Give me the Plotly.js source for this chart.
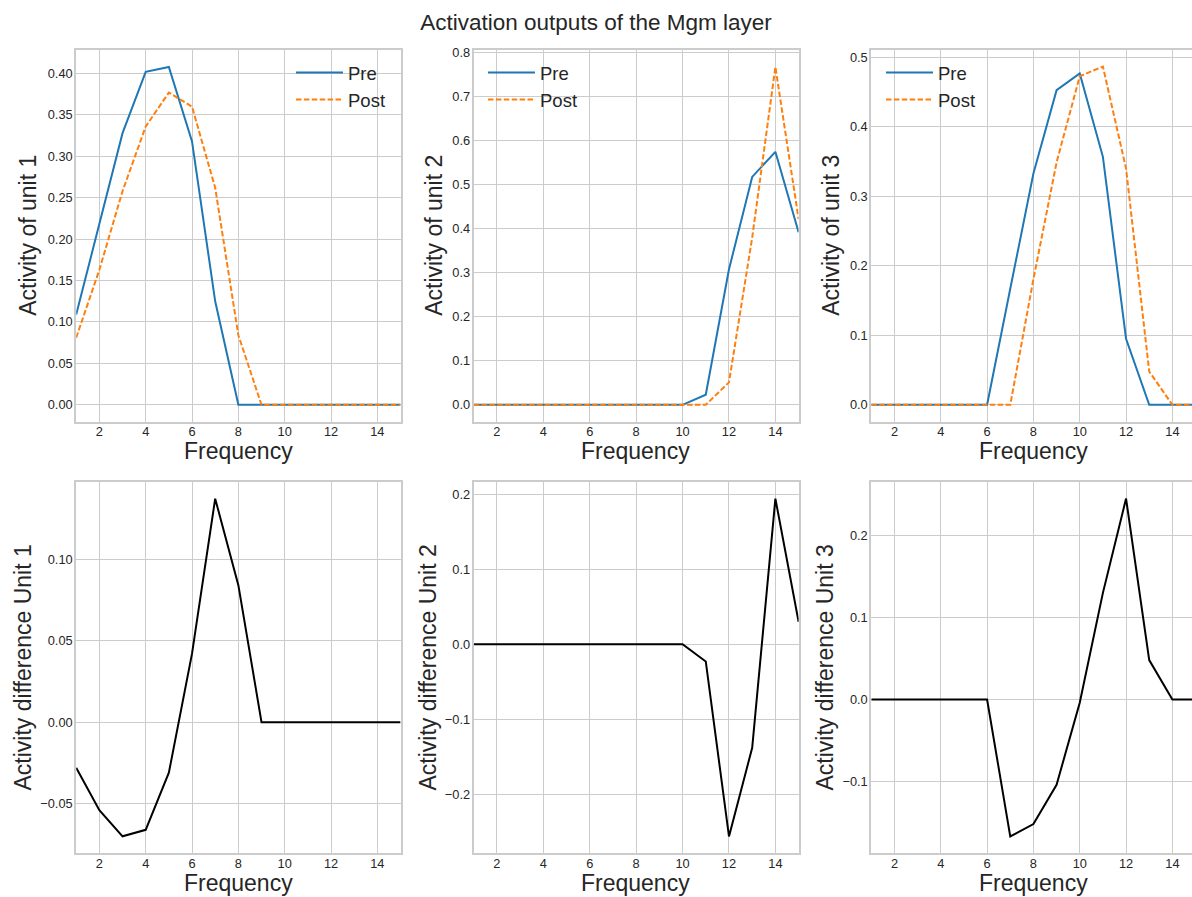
<!DOCTYPE html>
<html>
<head>
<meta charset="utf-8">
<script src="https://cdn.plot.ly/plotly-3.0.1.min.js"></script>
<style>html,body{margin:0;padding:0;background:#fff;}#chart{width:1192px;height:897px;}</style>
</head>
<body>
<div id="chart"></div>
<script>
// ---- data ----
const freq = [1,2,3,4,5,6,7,8,9,10,11,12,13,14,15];

const pre1  = [0.109,0.217,0.328,0.402,0.408,0.318,0.125,0,0,0,0,0,0,0,0];
const post1 = [0.081,0.163,0.258,0.336,0.377,0.360,0.262,0.084,0,0,0,0,0,0,0];
const diff1 = [-0.028,-0.054,-0.070,-0.066,-0.031,0.042,0.137,0.084,0,0,0,0,0,0,0];

const pre2  = [0,0,0,0,0,0,0,0,0,0,0.023,0.308,0.518,0.575,0.392];
const post2 = [0,0,0,0,0,0,0,0,0,0,0,0.051,0.380,0.768,0.422];
const diff2 = [0,0,0,0,0,0,0,0,0,0,-0.023,-0.256,-0.138,0.194,0.030];

const pre3  = [0,0,0,0,0,0,0.167,0.333,0.453,0.477,0.357,0.095,0,0,0];
const post3 = [0,0,0,0,0,0,0,0.181,0.349,0.473,0.487,0.340,0.048,0,0];
const diff3 = [0,0,0,0,0,0,-0.167,-0.152,-0.104,-0.004,0.130,0.245,0.048,0,0];

const seriesNames = ['Pre','Post'];
const chartTitle = 'Activation outputs of the Mgm layer';
const xTitle = 'Frequency';
const topTitles = ['Activity of unit 1','Activity of unit 2','Activity of unit 3'];
const bottomTitles = ['Activity difference Unit 1','Activity difference Unit 2','Activity difference Unit 3'];
const xTicks = [2,4,6,8,10,12,14];

// ---- styles ----
const BLUE = '#1f77b4', ORANGE = '#ff7f0e';
const GRID = '#cccccc', TXT = '#262626';
const FONT = 'Liberation Sans, Arial, sans-serif';

const pres = [pre1,pre2,pre3], posts = [post1,post2,post3], diffs = [diff1,diff2,diff3];
const legendIds = ['legend','legend2','legend3'];

const traces = [];
for (let i = 0; i < 3; i++) {
  const ax = i === 0 ? '' : String(i + 1);
  traces.push({x: freq, y: pres[i], type: 'scatter', mode: 'lines', name: seriesNames[0],
    xaxis: 'x' + ax, yaxis: 'y' + ax, legend: legendIds[i],
    line: {color: BLUE, width: 2}});
  traces.push({x: freq, y: posts[i], type: 'scatter', mode: 'lines', name: seriesNames[1],
    xaxis: 'x' + ax, yaxis: 'y' + ax, legend: legendIds[i],
    line: {color: ORANGE, width: 2, dash: '5.5px,2.4px'}});
}
for (let i = 0; i < 3; i++) {
  const n = String(i + 4);
  traces.push({x: freq, y: diffs[i], type: 'scatter', mode: 'lines', showlegend: false,
    xaxis: 'x' + n, yaxis: 'y' + n, line: {color: '#000000', width: 2}});
}

const W = 1192, H = 897;
const unitPx = 23.16;
const xLeft = [76.2, 473.7, 871.3];
const xDom = [[76.2/W, 400.5/W], [473.7/W, 798.6/W], [871.3/W, 1]];
const yDomTop = [(H-421.7)/H, (H-50)/H];
const yDomBot = [(H-853.3)/H, (H-481.7)/H];
const xRanges = [[1,15],[1,15],[1, 1 + (W-871.3)/unitPx]];

const yRanges = [[-0.0204,0.4284],[-0.0384,0.8064],[-0.0243,0.5108],
                 [-0.0804,0.1474],[-0.2785,0.2165],[-0.1876,0.2656]];
const yTicks = [[0,0.05,0.10,0.15,0.20,0.25,0.30,0.35,0.40],
                [0,0.1,0.2,0.3,0.4,0.5,0.6,0.7,0.8],
                [0,0.1,0.2,0.3,0.4,0.5],
                [-0.05,0,0.05,0.10],
                [-0.2,-0.1,0,0.1,0.2],
                [-0.1,0,0.1,0.2]];
const yFmt = ['.2f','.1f','.1f','.2f','.1f','.1f'];

const legendBase = {xanchor: 'left', yanchor: 'top', bgcolor: 'rgba(0,0,0,0)', itemwidth: 47,
                    font: {family: FONT, size: 18.5, color: TXT}};
const layout = {
  width: W, height: H,
  margin: {l: 0, r: 0, t: 0, b: 0},
  paper_bgcolor: '#ffffff', plot_bgcolor: '#ffffff',
  font: {family: FONT, color: TXT, size: 12.5},
  title: {text: chartTitle, x: 0.5, xanchor: 'center', y: 1 - 22/H, yanchor: 'middle', yref: 'container',
          font: {family: FONT, size: 22.5, color: TXT}},
  showlegend: true,
  legend:  Object.assign({x: 291/W, y: 1 - 54/H}, legendBase),
  legend2: Object.assign({x: 483/W, y: 1 - 54/H}, legendBase),
  legend3: Object.assign({x: 881/W, y: 1 - 54/H}, legendBase),
  annotations: []
};

const axTitleFont = {family: FONT, size: 23, color: TXT};
const yTitleX = [28, 434, 831, 22, 427, 824];
for (let k = 0; k < 6; k++) {
  const col = k % 3;
  const top = k < 3;
  const xn = k === 0 ? 'xaxis' : 'xaxis' + (k + 1);
  const yn = k === 0 ? 'yaxis' : 'yaxis' + (k + 1);
  const xa = k === 0 ? 'x' : 'x' + (k + 1);
  const ya = k === 0 ? 'y' : 'y' + (k + 1);
  const yd = top ? yDomTop : yDomBot;
  layout[xn] = {
    domain: xDom[col], anchor: ya, range: xRanges[col], autorange: false,
    tickmode: 'array', tickvals: xTicks, ticks: '', ticklabelstandoff: -3,
    showgrid: true, gridcolor: GRID, gridwidth: 1, zeroline: false,
    showline: true, linecolor: GRID, linewidth: 2, mirror: true,
    tickfont: {family: FONT, size: 12.8, color: TXT}
  };
  layout[yn] = {
    domain: yd, anchor: xa, range: yRanges[k], autorange: false,
    tickmode: 'array', tickvals: yTicks[k], tickformat: yFmt[k], ticks: '', ticklabelstandoff: -1,
    showgrid: true, gridcolor: GRID, gridwidth: 1, zeroline: false,
    showline: true, linecolor: GRID, linewidth: 2, mirror: col !== 2,
    tickfont: {family: FONT, size: 12.8, color: TXT}
  };
  // x axis title (centered under the full, unclipped axis width)
  const xc = xLeft[col] + 7 * unitPx;
  layout.annotations.push({text: xTitle, xref: 'paper', yref: 'paper', x: xc / W,
    y: (H - (top ? 451 : 883)) / H, xanchor: 'center', yanchor: 'middle', showarrow: false, font: axTitleFont});
  // y axis title
  layout.annotations.push({text: top ? topTitles[col] : bottomTitles[col], xref: 'paper', yref: 'paper',
    x: yTitleX[k] / W, y: (yd[0] + yd[1]) / 2, xanchor: 'center', yanchor: 'middle', textangle: -90,
    showarrow: false, font: axTitleFont});
}

Plotly.newPlot('chart', traces, layout, {displayModeBar: false, staticPlot: true});
</script>
</body>
</html>
